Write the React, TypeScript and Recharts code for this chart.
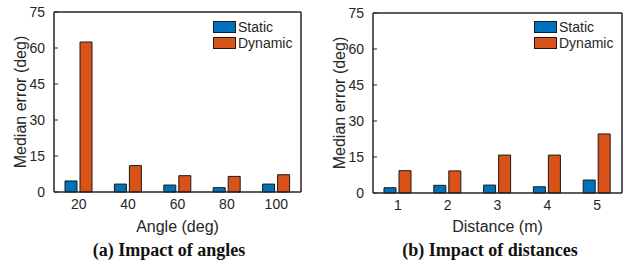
import { Bar, BarChart, Legend, XAxis, YAxis } from 'recharts';

const ANGLES = ['20', '40', '60', '80', '100'];
const ANGLE_STATIC = [4.6, 3.3, 2.9, 1.8, 3.3];
const ANGLE_DYNAMIC = [62.5, 11.0, 6.8, 6.5, 7.2];

const DISTANCES = ['1', '2', '3', '4', '5'];
const DIST_STATIC = [2.2, 3.2, 3.3, 2.6, 5.4];
const DIST_DYNAMIC = [9.3, 9.2, 15.8, 15.8, 24.6];

const Y_TICKS = [0, 15, 30, 45, 60, 75];

const COLOR_STATIC = '#0072BD';
const COLOR_DYNAMIC = '#D95319';
const AXIS = '#262626';
const SANS = '"Liberation Sans", Arial, sans-serif';

function LegendBox() {
  const rows = [
    { name: 'Static', color: COLOR_STATIC },
    { name: 'Dynamic', color: COLOR_DYNAMIC },
  ];
  return (
    <div style={{ fontFamily: SANS, fontSize: 14, color: AXIS }}>
      {rows.map((r) => (
        <div key={r.name} style={{ display: 'flex', alignItems: 'center', height: 16 }}>
          <span
            style={{
              width: 21,
              height: 10,
              background: r.color,
              border: '1px solid #1a1a1a',
              marginRight: 2,
              display: 'inline-block',
            }}
          />
          <span>{r.name}</span>
        </div>
      ))}
    </div>
  );
}

type PanelProps = {
  cats: string[];
  stat: number[];
  dyn: number[];
  xLabel: string;
  left: number;
  width: number;
  yAxisWidth: number;
  top: number;
  right: number;
};

function Panel({ cats, stat, dyn, xLabel, left, width, yAxisWidth, top, right }: PanelProps) {
  const data = cats.map((c, i) => ({ cat: c, stat: stat[i], dyn: dyn[i] }));
  const tickStyle = { fill: AXIS, fontSize: 14, fontFamily: SANS };
  return (
    <div style={{ position: 'absolute', left, top: 0 }}>
      <BarChart
        width={width}
        height={240}
        data={data}
        margin={{ top, right, bottom: 0, left: 0 }}
        barCategoryGap={11}
        barGap={3}
      >
        <XAxis
          dataKey="cat"
          height={240 - top - 180}
          tickLine={false}
          tickSize={3}
          tickMargin={4}
          axisLine={{ stroke: AXIS, strokeWidth: 1.5 }}
          tick={tickStyle}
          label={{ value: xLabel, position: 'insideBottom', offset: 8, fill: AXIS, fontSize: 16, fontFamily: SANS }}
        />
        <XAxis
          xAxisId="top"
          dataKey="cat"
          orientation="top"
          mirror
          tick={false}
          tickSize={4}
          tickLine={{ stroke: AXIS }}
          axisLine={{ stroke: AXIS, strokeWidth: 1.5 }}
        />
        <YAxis
          width={yAxisWidth}
          domain={[0, 75]}
          ticks={Y_TICKS}
          interval={0}
          tickSize={-4}
          tickMargin={13}
          tickLine={{ stroke: AXIS }}
          axisLine={{ stroke: AXIS, strokeWidth: 1.5 }}
          tick={tickStyle}
          label={{
            value: 'Median error (deg)',
            angle: -90,
            position: 'insideLeft',
            offset: yAxisWidth - 34,
            style: { textAnchor: 'middle' },
            fill: AXIS,
            fontSize: 16,
            fontFamily: SANS,
          }}
        />
        <YAxis
          yAxisId="r"
          orientation="right"
          mirror
          domain={[0, 75]}
          ticks={Y_TICKS}
          interval={0}
          tick={false}
          tickSize={4}
          tickLine={{ stroke: AXIS }}
          axisLine={{ stroke: AXIS, strokeWidth: 1.5 }}
        />
        <Legend
          layout="vertical"
          align="center"
          verticalAlign="middle"
          content={<LegendBox />}
          wrapperStyle={{ top: 19, left: width - right - 88, width: 90, height: 34 }}
        />
        <Bar dataKey="stat" name="Static" fill={COLOR_STATIC} stroke="#1a1a1a" strokeWidth={1} isAnimationActive={false} />
        <Bar dataKey="dyn" name="Dynamic" fill={COLOR_DYNAMIC} stroke="#1a1a1a" strokeWidth={1} isAnimationActive={false} />
      </BarChart>
    </div>
  );
}

const captionStyle = {
  position: 'absolute' as const,
  top: 239,
  fontFamily: '"Liberation Serif", "Times New Roman", serif',
  fontWeight: 700,
  fontSize: 18,
  lineHeight: '22px',
  color: '#111',
  whiteSpace: 'nowrap' as const,
  transform: 'translateX(-50%)',
};

export default function App() {
  return (
    <div style={{ position: 'absolute', left: 0, top: 0, width: 623, height: 266, background: '#fff', overflow: 'hidden' }}>
      <Panel cats={ANGLES} stat={ANGLE_STATIC} dyn={ANGLE_DYNAMIC} xLabel="Angle (deg)" left={0} width={310} yAxisWidth={54} top={12} right={9} />
      <Panel cats={DISTANCES} stat={DIST_STATIC} dyn={DIST_DYNAMIC} xLabel="Distance (m)" left={316} width={307} yAxisWidth={57} top={13} right={1} />
      <div style={{ ...captionStyle, left: 169 }}>(a) Impact of angles</div>
      <div style={{ ...captionStyle, left: 490 }}>(b) Impact of distances</div>
    </div>
  );
}
